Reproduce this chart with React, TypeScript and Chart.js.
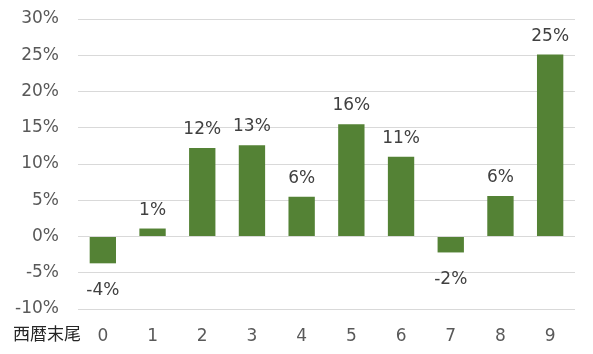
import React, { useEffect, useRef } from "react";
import { Chart, registerables } from "chart.js";

Chart.register(...registerables);

const categories = ["0", "1", "2", "3", "4", "5", "6", "7", "8", "9"];
const values = [-3.7, 1.1, 12.2, 12.6, 5.5, 15.5, 11.0, -2.2, 5.6, 25.1];
const yTicks = [-10, -5, 0, 5, 10, 15, 20, 25, 30];
const axisTitle = "西暦末尾";

const FONT = "'DejaVu Sans', 'Noto Sans CJK JP', sans-serif";

const labelPlugin = {
  id: "labels",
  afterDatasetsDraw(chart: any) {
    const ctx = chart.ctx;
    const meta = chart.getDatasetMeta(0);
    ctx.save();
    ctx.font = `17px ${FONT}`;
    ctx.fillStyle = "#404040";
    ctx.textAlign = "center";
    ctx.textBaseline = "alphabetic";
    meta.data.forEach((bar: any, i: number) => {
      const v = values[i];
      const txt = `${Math.round(v)}%`;
      if (v >= 0) {
        ctx.fillText(txt, bar.x, bar.y - 14);
      } else {
        ctx.fillText(txt, bar.x, bar.y + 32);
      }
    });
    ctx.font = `17px ${FONT}`;
    ctx.fillStyle = "#262626";
    ctx.textAlign = "left";
    ctx.textBaseline = "middle";
    ctx.fillText(axisTitle, 13, 336);
    ctx.restore();
  },
};

export default function App() {
  const ref = useRef<HTMLCanvasElement>(null);
  useEffect(() => {
    document.body.style.margin = "0";
    const chart = new Chart(ref.current!, {
      type: "bar",
      data: {
        labels: categories,
        datasets: [
          {
            data: values,
            backgroundColor: "#548235",
            borderWidth: 0,
            categoryPercentage: 1,
            barPercentage: 0.53,
          },
        ],
      },
      options: {
        animation: false,
        responsive: false,
        maintainAspectRatio: false,
        layout: { padding: { top: 19, right: 18, bottom: 0, left: 0 } },
        plugins: { legend: { display: false }, tooltip: { enabled: false } },
        scales: {
          x: {
            grid: { display: false },
            border: { display: false },
            ticks: {
              color: "#595959",
              font: { family: FONT, size: 17 },
              padding: 9,
            },
            afterFit(scale: any) {
              scale.height = 45;
              scale.paddingLeft = 0;
              scale.paddingRight = 0;
            },
          },
          y: {
            min: -10,
            max: 30,
            afterBuildTicks(scale: any) {
              scale.ticks = yTicks.map((v) => ({ value: v }));
            },
            grid: { color: "#d9d9d9", lineWidth: 1, drawTicks: false },
            border: { display: false },
            ticks: {
              color: "#595959",
              font: { family: FONT, size: 17 },
              padding: 19,
              callback: (v: any) => `${v}%`,
            },
            afterFit(scale: any) {
              scale.width = 78;
              scale.paddingTop = 0;
              scale.paddingBottom = 0;
            },
          },
        },
      },
      plugins: [labelPlugin],
    });
    return () => chart.destroy();
  }, []);
  return (
    <div style={{ width: 593, height: 354 }}>
      <canvas ref={ref} width={593} height={354} />
    </div>
  );
}
